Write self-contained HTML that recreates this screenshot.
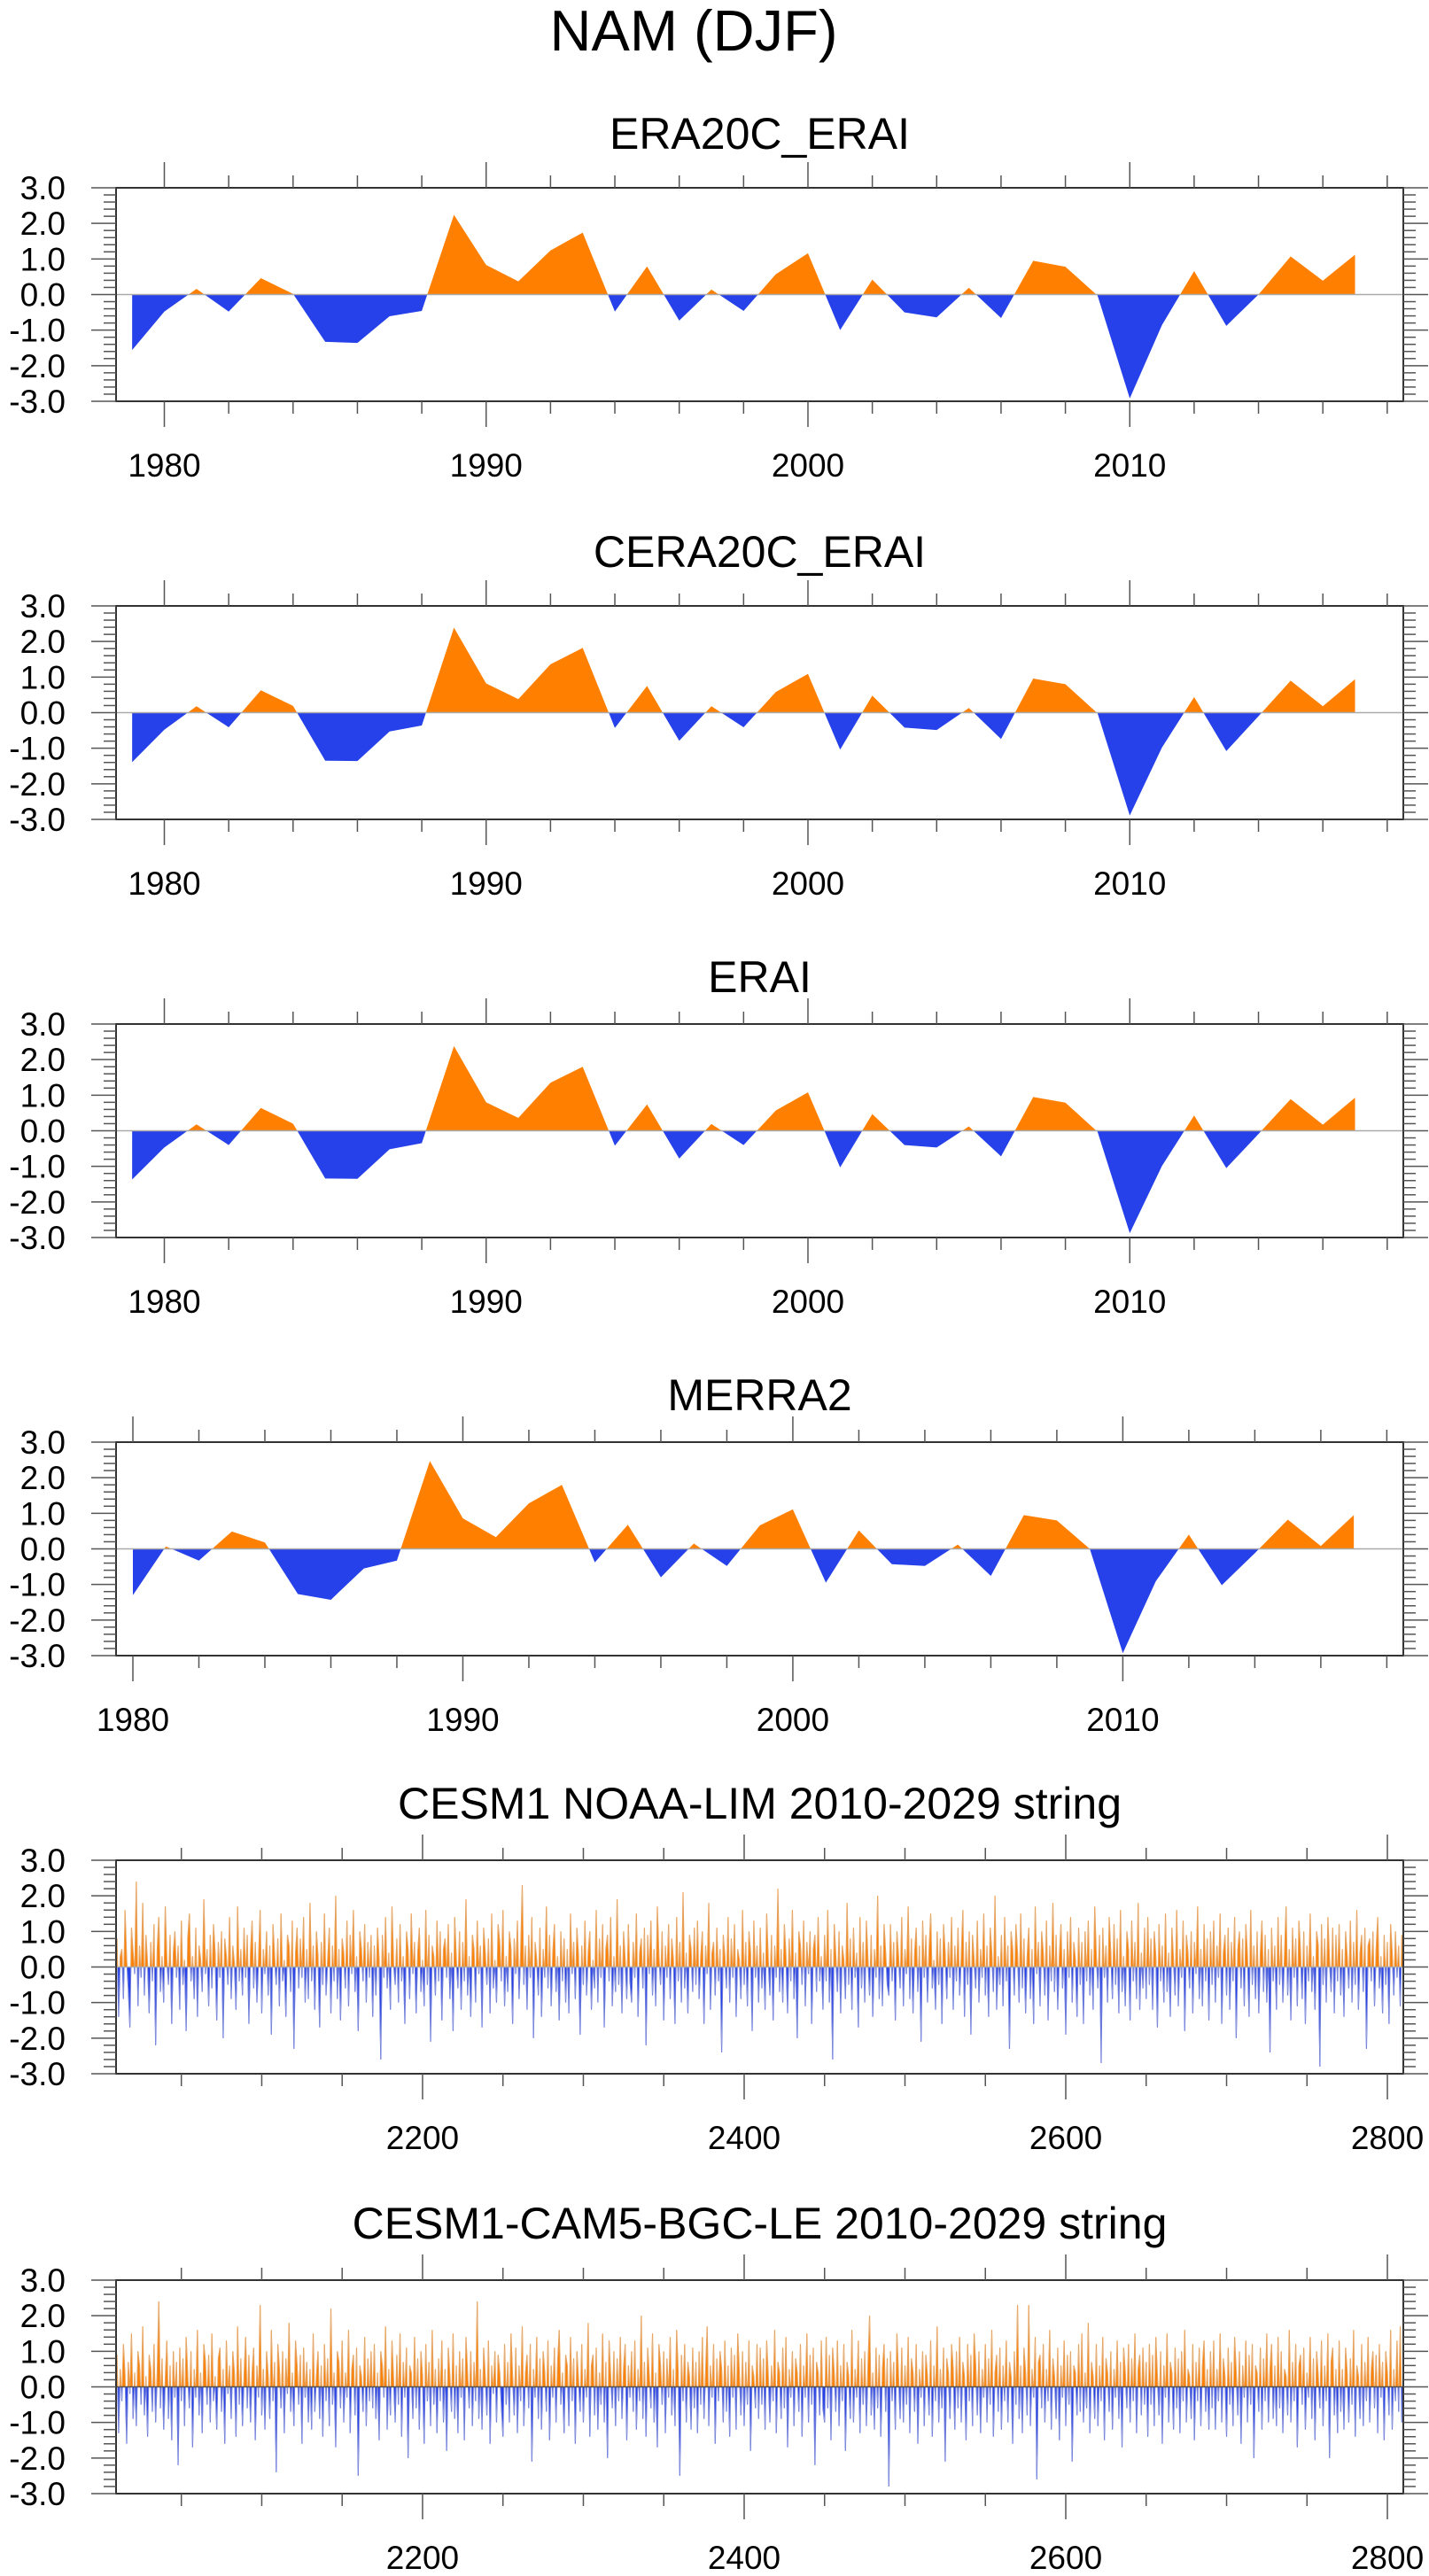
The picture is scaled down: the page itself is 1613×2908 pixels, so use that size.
<!DOCTYPE html>
<html><head><meta charset="utf-8"><title>NAM (DJF)</title>
<style>
html,body{margin:0;padding:0;background:#fff;}
svg{display:block;font-family:"Liberation Sans",Arial,sans-serif;}
</style></head>
<body>
<svg id="chart" width="1613" height="2908" viewBox="0 0 1613 2908" xmlns="http://www.w3.org/2000/svg">
<text x="783" y="57" font-size="65" text-anchor="middle">NAM (DJF)</text>
</svg>
<script>
// ---- data ----
const yearsERA = [1979,1980,1981,1982,1983,1984,1985,1986,1987,1988,1989,1990,1991,1992,1993,1994,1995,1996,1997,1998,1999,2000,2001,2002,2003,2004,2005,2006,2007,2008,2009,2010,2011,2012,2013,2014,2015,2016,2017];
const era20cValues = [-1.56,-0.48,0.16,-0.48,0.46,0.02,-1.33,-1.36,-0.61,-0.46,2.24,0.83,0.37,1.24,1.74,-0.48,0.79,-0.73,0.14,-0.46,0.57,1.16,-1.0,0.42,-0.5,-0.64,0.19,-0.66,0.95,0.78,-0.03,-2.92,-0.86,0.66,-0.88,0.0,1.07,0.39,1.12];
const cera20cValues = [-1.39,-0.48,0.18,-0.41,0.63,0.19,-1.35,-1.36,-0.53,-0.36,2.39,0.82,0.38,1.36,1.82,-0.43,0.75,-0.79,0.18,-0.41,0.58,1.09,-1.04,0.48,-0.42,-0.49,0.13,-0.74,0.96,0.80,-0.02,-2.89,-0.98,0.44,-1.08,-0.10,0.90,0.18,0.94];
const eraiValues = [-1.37,-0.47,0.18,-0.40,0.64,0.20,-1.34,-1.35,-0.52,-0.35,2.38,0.80,0.36,1.35,1.80,-0.42,0.74,-0.78,0.19,-0.40,0.57,1.08,-1.03,0.47,-0.40,-0.47,0.12,-0.72,0.95,0.79,-0.03,-2.88,-0.99,0.43,-1.05,-0.09,0.89,0.17,0.93];
const yearsMERRA = [1980,1981,1982,1983,1984,1985,1986,1987,1988,1989,1990,1991,1992,1993,1994,1995,1996,1997,1998,1999,2000,2001,2002,2003,2004,2005,2006,2007,2008,2009,2010,2011,2012,2013,2014,2015,2016,2017];
const merra2Values = [-1.3,0.07,-0.33,0.49,0.18,-1.27,-1.43,-0.55,-0.33,2.47,0.86,0.33,1.28,1.8,-0.38,0.68,-0.8,0.15,-0.48,0.66,1.11,-0.95,0.52,-0.43,-0.48,0.12,-0.76,0.95,0.8,0.0,-2.93,-0.91,0.4,-1.02,-0.12,0.82,0.08,0.95];
const cesmStartYear = 2010;
const noaaLimValues = [
.8,-1.4,.3,.5,-.9,1.6,.2,-.6,-1.7,1.1,.4,-.2,2.4,-1.1,.6,-.3,1.8,-.8,.9,.1,-1.3,.7,-.4,1.2,-2.2,.5,1.4,-.7,.3,-1.0,1.7,.2,-.5,.9,-1.6,.4,1.0,-.3,.6,-1.2,
1.3,-.5,.2,-1.8,.8,1.5,-.4,.3,-.9,1.1,-1.4,.6,.2,-.7,1.9,-.2,.5,-1.1,.9,-.6,1.2,.4,-1.5,.7,-.3,1.0,-2.0,.8,.3,-.5,1.4,-.9,.6,.1,-1.2,1.7,-.4,.5,-.8,1.1,
-.3,.9,-1.6,.4,1.3,-.6,.7,-1.0,.2,1.6,-1.3,.5,-.2,1.0,-.8,.6,-1.9,1.2,.3,-.5,.8,-1.1,1.5,-.4,.2,-1.4,.9,.6,-.7,1.3,-2.3,.4,1.1,-.6,.8,-.3,1.4,-1.0,.5,-.9,
1.8,-.4,.6,-1.2,1.0,.3,-1.7,.7,-.5,1.5,-.8,.2,1.1,-1.3,.6,-.4,2.0,-.9,.5,-1.5,.8,.4,-.6,1.3,-1.1,.9,-.2,1.6,-.7,.3,-1.8,1.0,.5,-.4,1.2,-1.0,.7,-.3,.9,-1.4,
.6,-.8,1.1,.2,-2.6,.9,-.3,1.4,-.6,.4,-1.2,1.7,.1,-.5,.8,-1.0,1.2,-.4,.3,-1.6,1.0,.5,-.9,1.5,-.2,.7,-1.3,.4,1.1,-.7,.2,-1.1,1.6,-.5,.9,-2.1,.6,.3,-.8,1.3,
-.4,1.0,-1.5,.5,.8,-.3,1.2,-.9,.4,-1.8,1.4,.2,-.6,1.0,-1.2,.7,-.4,1.9,-.8,.3,-1.4,.9,.5,-1.0,1.3,-.2,.6,-1.7,1.1,.4,-.5,.8,-1.3,1.5,-.6,.2,-1.0,1.2,.7,-.4,
1.6,-1.1,.3,-.7,1.0,.5,-1.6,.8,-.2,1.3,-.9,.4,2.3,-.5,.6,-1.2,.9,-.3,1.4,-2.0,.7,.2,-.8,1.1,-1.4,.5,-.3,1.7,-.6,.9,-1.1,.4,1.2,-.7,.3,-1.5,1.0,-.4,.8,-1.0,
.5,-1.3,1.5,-.2,.7,-.9,1.1,.3,-1.9,.6,-.5,1.3,-.8,.4,1.0,-1.2,.2,-.6,1.6,-1.0,.8,-.3,1.2,-1.7,.5,.9,-.4,1.4,-1.1,.3,-.7,1.9,-.5,.6,-1.3,1.0,.2,-.9,1.2,-.4,
-1.0,.7,-.3,1.5,-1.4,.4,.8,-.6,1.1,-2.2,.9,-.2,1.3,-.8,.5,-1.1,1.7,.3,-.5,1.0,-1.5,.6,-.3,1.2,-.9,.8,.2,-1.6,1.4,-.4,.7,-1.0,2.1,-.6,.4,-1.3,.9,.5,-.7,1.1,
-.5,1.3,-.9,.3,1.0,-1.6,.6,-.2,1.8,-1.2,.4,.7,-.8,1.1,-.4,.5,-2.4,.9,.3,-.6,1.4,-1.0,.8,-.3,1.2,-1.4,.5,.2,-.9,1.6,-.5,.7,-1.1,1.0,.4,-1.8,1.3,-.3,.6,-1.0,
1.1,-.6,.4,-1.2,1.5,.2,-.8,.9,-1.5,.6,-.3,2.2,-.7,.5,-1.0,1.2,.3,-1.3,.8,-.4,1.6,-.9,.4,-2.0,1.0,.6,-.5,1.3,-1.1,.7,-.2,1.0,-1.6,.5,.9,-.7,1.4,-.4,.3,-1.2,
.9,-.4,1.6,-1.0,.5,-2.6,1.2,.3,-.7,1.0,-1.3,.6,.2,-.9,1.8,-.5,.8,-1.2,1.1,-.3,.4,-1.7,1.4,-.6,.7,-1.0,1.3,.2,-.8,.9,-1.4,.5,-.3,2.0,-.9,.6,-1.1,1.2,.4,-.5,
-.8,1.2,-.4,.7,-1.5,1.0,.3,-.6,1.4,-1.1,.5,-.2,1.7,-.9,.8,-1.3,.4,1.1,-.7,.6,-2.1,1.3,-.3,.9,-1.0,.5,1.5,-.6,.2,-1.2,1.0,-.5,.8,-1.6,1.2,.4,-.9,.7,-.3,1.4,
-1.2,.6,-.4,1.1,-.8,.3,1.6,-1.4,.7,-.5,1.0,-1.9,.9,.2,-.6,1.3,-1.0,.5,-.3,1.5,-.8,.6,-1.4,1.1,.4,-.7,2.0,-1.2,.3,-.5,.9,-1.1,1.4,-.4,.6,-2.3,1.0,.5,-.8,1.2,
.4,-1.0,1.5,-.6,.8,-1.3,.3,1.1,-.9,.5,-1.6,1.7,-.2,.7,-1.1,1.0,.4,-.8,1.3,-1.5,.6,-.4,1.8,-.7,.9,-1.2,.3,1.2,-.6,.5,-1.9,1.0,-.3,1.4,-1.0,.7,.2,-1.4,1.1,-.5,
.7,-1.6,1.0,-.4,1.3,-.8,.5,-1.2,1.7,.3,-.6,.9,-2.7,1.1,-.3,.6,-1.0,1.4,.4,-.9,1.2,-.5,.8,-1.3,1.6,-.7,.3,-1.1,1.0,.5,-1.5,1.3,-.4,.7,-.9,1.8,-1.2,.4,-.6,1.1,
-.9,1.4,-.5,.8,-1.2,1.0,.3,-1.7,1.2,-.4,.6,-1.0,1.5,-.7,.4,-1.4,1.1,.2,-.8,1.6,-1.1,.5,-.3,1.3,-1.8,.9,.4,-.6,1.0,-1.3,.7,-.2,1.7,-.9,.5,-1.1,1.2,-.4,.8,-1.5,
1.0,-.5,1.3,-1.0,.6,-.3,1.5,-1.6,.4,.9,-.8,1.1,-1.2,.7,-.4,1.4,-2.0,.5,1.0,-.6,.8,-1.1,1.2,.3,-1.4,1.6,-.5,.6,-.9,1.0,-1.3,.4,1.3,-.7,.9,-1.0,.5,-2.4,1.1,-.4,
.6,-1.2,1.4,-.5,.9,-1.0,.3,1.7,-.8,.5,-1.5,1.1,-.3,.8,-1.1,1.3,.4,-.9,1.0,-1.6,.6,-.4,1.5,-.7,.3,-1.2,1.0,.6,-2.8,1.2,-.5,.8,-1.0,1.4,.2,-.7,1.1,-1.3,.9,-.4,
1.2,-.8,.5,-1.4,1.0,.3,-.6,1.3,-1.0,.7,-.5,1.6,-1.2,.4,.9,-.7,1.1,-2.3,.6,.8,-.4,1.0,-1.1,.5,1.4,-.6,.3,-1.3,.9,-.5,.7,-1.6,1.2,.4,-.8,1.0,-.3,.6,-1.1,.9];
const bgcLeValues = [
.9,-1.3,.5,-.4,1.2,.3,-1.6,.7,-.2,1.5,-.9,.4,-1.1,1.0,.6,-.5,1.7,-.8,.3,-1.4,.9,.5,-.7,1.2,-1.0,.4,2.4,-.6,.8,-1.2,.2,1.3,-.9,.6,-1.5,1.0,-.3,.7,-2.2,1.1,
-.4,.8,-1.1,1.4,.3,-.6,1.0,-1.7,.5,-.3,1.6,-.8,.4,-1.3,1.2,.7,-.5,.9,-1.0,1.5,-.4,.3,-1.2,.8,1.1,-.7,.5,-1.6,1.3,-.2,.6,-.9,1.0,.4,-1.4,1.7,-.5,.8,-1.1,.3,
1.4,-.6,.9,-1.0,.4,1.1,-1.5,.6,-.3,2.3,-.8,.5,-1.2,1.0,.3,-.9,1.6,-.4,.7,-2.4,1.2,.5,-.6,1.0,-1.3,.8,-.2,1.8,-.7,.4,-1.1,1.3,.6,-.5,.9,-1.6,1.1,-.3,.7,-1.0,
.5,-1.2,1.5,-.7,.3,1.0,-.9,.6,-1.4,1.2,-.4,.8,-1.1,2.2,-.5,.4,-1.7,1.0,.7,-.6,1.3,-1.0,.4,-.3,1.6,-1.3,.5,.9,-.8,1.1,-2.5,.6,.3,-.7,1.4,-1.1,.8,-.4,1.0,-.6,
1.2,-.9,.4,-1.5,1.0,.6,-.3,1.7,-1.2,.5,-.8,1.3,.2,-1.0,.9,-.5,1.5,-1.4,.7,-.3,1.1,-2.0,.6,.4,-.9,1.4,-.6,.8,-1.2,1.0,.3,-1.6,1.2,-.4,.7,-1.1,1.6,-.5,.5,-1.3,
.8,-.4,1.3,-1.0,.5,-1.8,1.1,.3,-.7,1.5,-.9,.6,-1.3,1.0,-.3,.8,-1.5,1.4,.4,-.6,1.0,-1.1,.7,-.4,2.4,-.9,.5,-1.2,1.1,.3,-.8,1.3,-1.6,.6,-.2,1.0,-1.0,.9,.4,-.5,
-1.4,1.2,-.5,.7,-1.0,1.5,.3,-.8,1.1,-1.3,.6,-.4,1.7,-1.1,.4,.9,-.6,1.2,-2.1,.5,-.3,1.4,-.9,.8,-1.2,1.0,.4,-.7,1.3,-1.5,.6,-.3,1.1,-1.0,.7,1.6,-.5,.4,-1.3,.9,
.6,-1.1,1.4,-.4,.8,-1.6,1.0,.2,-.7,1.2,-1.0,.5,-.3,1.8,-1.4,.6,.9,-.8,1.1,-1.2,.4,-.5,1.5,-1.0,.7,-2.0,1.3,.3,-.6,1.0,-1.1,.8,-.4,1.4,-.9,.5,1.2,-1.5,.6,-.3,
1.0,-.7,1.3,-1.2,.5,-.4,2.0,-.9,.7,-1.4,1.1,.3,-.6,1.5,-1.0,.4,-1.7,1.2,.6,-.5,1.0,-1.3,.8,-.3,1.4,-.8,.5,-1.1,1.6,.4,-2.5,.9,-.4,1.2,-1.0,.7,.3,-1.2,1.1,-.6,
.7,-1.3,1.0,-.5,1.4,-.9,.4,1.7,-1.1,.6,-.3,1.2,-1.6,.8,-.4,1.0,.5,-1.0,1.3,-.7,.6,-1.4,1.1,-.3,.9,-1.2,1.5,.4,-.8,1.0,-1.1,.7,-.5,1.3,-1.8,.6,.3,-.6,1.2,-.9,
1.1,-.5,.8,-1.2,1.3,.3,-1.0,.6,-.4,1.6,-1.3,.7,.4,-.9,1.1,-.6,1.4,-1.7,.5,-.3,1.0,-1.1,.8,.4,-.7,1.2,-1.4,.6,-.3,1.5,-1.0,.9,-.5,1.1,-2.2,.7,.4,-.8,1.3,-.6,
-1.0,1.4,-.6,.9,-1.5,1.1,.4,-.7,1.3,-1.1,.6,-.4,1.2,-1.8,.7,.3,-.9,1.6,-1.0,.5,-.3,1.3,-1.3,.8,-.5,1.0,-1.1,.6,2.0,-.8,.4,-1.2,1.1,-.6,.9,-1.4,.5,1.2,-.7,.8,
-2.8,1.0,-.4,.7,-1.2,1.5,.3,-.9,1.1,-1.0,.6,-.5,1.4,-1.3,.8,.4,-.7,1.2,-1.6,.5,-.3,1.0,-1.1,.9,.3,-.8,1.3,-1.4,.6,-.4,1.7,-1.0,.5,-.6,1.1,-2.1,.8,.4,-.9,1.2,
.5,-1.2,1.0,-.6,1.4,-1.0,.7,.3,-1.5,1.2,-.4,.9,-1.1,1.5,.6,-.8,1.0,-1.3,.5,-.3,1.2,-1.0,.8,-.5,1.6,-1.4,.4,.9,-.7,1.1,-1.2,.6,-.4,1.3,-1.0,.7,.3,-1.6,1.0,-.5,
2.3,-.9,.6,-1.3,1.1,.4,-.8,2.3,-1.1,.5,-.3,1.4,-2.6,.7,.9,-.6,1.2,-1.0,.5,-.4,1.6,-1.2,.8,.3,-.9,1.1,-1.5,.6,-.3,1.3,-1.1,.9,-.5,1.0,-2.1,.6,.4,-.8,1.2,-.7,
1.5,-1.0,.4,-.6,1.8,-1.3,.7,.3,-.9,1.2,-1.1,.6,-.4,1.4,-1.5,.8,.4,-.7,1.0,-1.2,.5,-.3,1.3,-.9,.7,-1.7,1.1,.4,-.6,1.2,-1.0,.8,-.4,1.5,-1.3,.5,.9,-.8,1.1,-.5,
.7,-1.4,1.2,-.5,.9,-1.1,1.4,.3,-.8,1.0,-1.6,.6,-.3,1.5,-1.0,.7,.4,-1.2,1.1,-.6,.8,-1.3,1.0,-.4,1.6,-1.0,.5,.3,-.9,1.2,-1.5,.7,-.4,1.1,-1.1,.6,1.3,-.7,.5,-1.2,
1.0,-.6,1.3,-1.2,.5,-.4,1.5,-1.0,.8,.3,-1.4,1.1,-.5,.7,-1.1,1.4,.4,-.8,1.0,-1.6,.6,-.3,1.3,-1.0,.9,-.5,1.2,-2.0,.6,.4,-.7,1.1,-1.2,.8,-.4,1.5,-1.0,.5,1.2,-.9,
.6,-1.1,1.4,-.6,1.0,-1.3,.5,.3,-.8,1.6,-1.0,.7,-.4,1.2,-1.7,.6,.9,-.5,1.1,-1.2,.4,-.3,1.4,-.9,.8,-1.5,1.0,.3,-.6,1.3,-1.1,.6,-.4,1.5,-2.0,.7,1.1,-.8,.5,-1.3,
1.3,-.7,.5,-1.2,1.1,.4,-1.0,.8,-.5,1.6,-1.4,.6,.3,-.9,1.2,-1.1,.7,-.4,1.4,-1.0,.5,1.0,-.6,.9,-1.3,1.2,-.3,.7,-1.5,1.0,.4,-.8,1.6,-1.2,.5,-.4,1.3,-.7,1.7,-1.0];

// ---- drawing ----
const NS = "http://www.w3.org/2000/svg";
const svg = document.getElementById("chart");
const X0 = 131, X1 = 1584, H = 241;
const ORANGE = "#ff8000", BLUE = "#2641e9";

function mk(tag, attrs, parent) {
  const e = document.createElementNS(NS, tag);
  for (const k in attrs) e.setAttribute(k, attrs[k]);
  (parent || svg).appendChild(e);
  return e;
}

function drawPanel(opt) {
  const g = mk("g", {});
  
  
  const top = opt.top, bot = top + H;
  const xs = v => X0 + (v - opt.xmin) / (opt.xmax - opt.xmin) * (X1 - X0);
  const ys = v => top + (3 - v) / 6 * H;
  const t = mk("text", {x: (X0 + X1) / 2, y: top - opt.titleGap, "font-size": 50, "text-anchor": "middle"}, g);
  
  
  t.textContent = opt.title;
  const pts = [];
  for (let i = 0; i < opt.values.length; i++) {
    const x = opt.xvals[i], v = opt.values[i];
    if (i > 0) {
      const px = opt.xvals[i - 1], pv = opt.values[i - 1];
      if ((pv > 0 && v < 0) || (pv < 0 && v > 0)) {
        const f = pv / (pv - v);
        pts.push([px + f * (x - px), 0]);
      }
    }
    pts.push([x, v]);
  }
  const fx0 = xs(pts[0][0]), fx1 = xs(pts[pts.length - 1][0]);
  let dp = "M" + fx0 + "," + ys(0), dn = dp;
  for (const p of pts) {
    dp += "L" + xs(p[0]).toFixed(2) + "," + ys(Math.max(p[1], 0)).toFixed(2);
    dn += "L" + xs(p[0]).toFixed(2) + "," + ys(Math.min(p[1], 0)).toFixed(2);
  }
  dp += "L" + fx1 + "," + ys(0) + "Z";
  dn += "L" + fx1 + "," + ys(0) + "Z";
  const sw = opt.thinLine ? 1.1 : 0;
  const pos = mk("path", {d: dp, fill: ORANGE, stroke: sw ? ORANGE : "none", "stroke-width": sw, "stroke-linejoin": "miter"}, g);
  
  
  const neg = mk("path", {d: dn, fill: BLUE, stroke: sw ? BLUE : "none", "stroke-width": sw, "stroke-linejoin": "miter"}, g);
  
  
  if (opt.thinLine) {
    let dl = "";
    opt.values.forEach((v, i) => { dl += (i ? "L" : "M") + xs(opt.xvals[i]).toFixed(2) + "," + ys(v).toFixed(2); });
    const ln = mk("path", {d: dl, fill: "none", stroke: "#c8c8c8", "stroke-width": 0.6, "stroke-opacity": 0.7}, g);
    
    
  }
  const zl = mk("line", {x1: X0, x2: X1, y1: ys(0), y2: ys(0), stroke: opt.zeroColor || "#aaaaaa", "stroke-width": 1.5}, g);
  
  
  const fr = mk("rect", {x: X0, y: top, width: X1 - X0, height: H, fill: "none", stroke: "#333", "stroke-width": 2}, g);
  
  
  for (let k = -15; k <= 15; k++) {
    const v = k / 5, y = ys(v), major = (k % 5 === 0);
    const len = major ? 28 : 14;
    mk("line", {x1: X0 - len, x2: X0, y1: y, y2: y, stroke: "#555", "stroke-width": 1.5}, g);
    mk("line", {x1: X1, x2: X1 + len, y1: y, y2: y, stroke: "#555", "stroke-width": 1.5}, g);
    if (major) {
      const lab = mk("text", {x: 74, y: y + 13, "font-size": 37, "text-anchor": "end"}, g);
      
      
      lab.textContent = v.toFixed(1);
    }
  }
  for (let v = Math.ceil(opt.xmin / opt.minorStep) * opt.minorStep; v <= opt.xmax; v += opt.minorStep) {
    const x = xs(v), major = (v % opt.majorStep === 0);
    const len = major ? 29 : 14;
    mk("line", {x1: x, x2: x, y1: top - len, y2: top, stroke: "#555", "stroke-width": 1.5}, g);
    mk("line", {x1: x, x2: x, y1: bot, y2: bot + len, stroke: "#555", "stroke-width": 1.5}, g);
    if (major && opt.labels.indexOf(v) >= 0) {
      const lab = mk("text", {x: x, y: top + 326, "font-size": 37, "text-anchor": "middle"}, g);
      
      
      lab.textContent = String(v);
    }
  }
}

const yearsCESM = noaaLimValues.map((_, i) => cesmStartYear + i);
const yearsCESM2 = bgcLeValues.map((_, i) => cesmStartYear + i);
const decadeLabels = [1980, 1990, 2000, 2010];
const centuryLabels = [2200, 2400, 2600, 2800];

drawPanel({name: "era20c-erai", title: "ERA20C_ERAI", top: 212, titleGap: 44, xmin: 1978.5, xmax: 2018.5, xvals: yearsERA, values: era20cValues, minorStep: 2, majorStep: 10, labels: decadeLabels});
drawPanel({name: "cera20c-erai", title: "CERA20C_ERAI", top: 684, titleGap: 44, xmin: 1978.5, xmax: 2018.5, xvals: yearsERA, values: cera20cValues, minorStep: 2, majorStep: 10, labels: decadeLabels});
drawPanel({name: "erai", title: "ERAI", top: 1156, titleGap: 36, xmin: 1978.5, xmax: 2018.5, xvals: yearsERA, values: eraiValues, minorStep: 2, majorStep: 10, labels: decadeLabels});
drawPanel({name: "merra2", title: "MERRA2", top: 1628, titleGap: 36, xmin: 1979.49, xmax: 2018.5, xvals: yearsMERRA, values: merra2Values, minorStep: 2, majorStep: 10, labels: decadeLabels});
drawPanel({name: "cesm1-noaa-lim", title: "CESM1 NOAA-LIM 2010-2029 string", top: 2100, titleGap: 47, xmin: 2009.4, xmax: 2809.9, xvals: yearsCESM, values: noaaLimValues, minorStep: 50, majorStep: 200, labels: centuryLabels, thinLine: true});
drawPanel({name: "cesm1-cam5-bgc-le", title: "CESM1-CAM5-BGC-LE 2010-2029 string", top: 2574, titleGap: 47, xmin: 2009.4, xmax: 2809.9, xvals: yearsCESM2, values: bgcLeValues, minorStep: 50, majorStep: 200, labels: centuryLabels, thinLine: true, zeroColor: "#555"});
</script>
</body></html>
